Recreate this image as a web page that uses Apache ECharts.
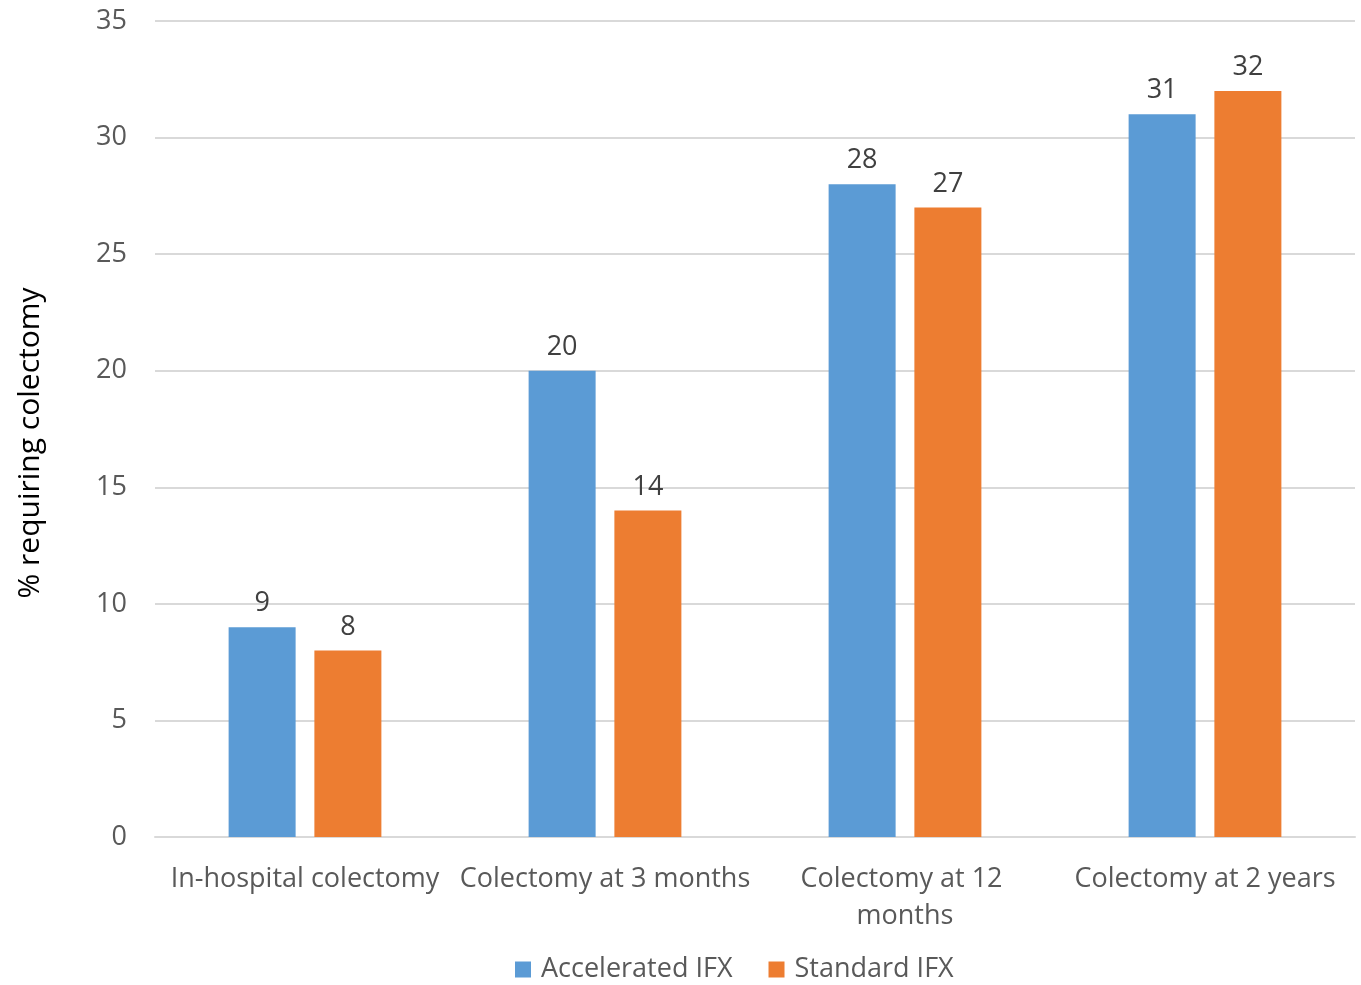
<!DOCTYPE html>
<html>
<head>
<meta charset="utf-8">
<script src="https://cdn.jsdelivr.net/npm/echarts@6/dist/echarts.min.js"></script>
<style>
  html, body { margin: 0; padding: 0; background: #fff; }
  #chart { width: 1361px; height: 985px; }
</style>
</head>
<body>
<div id="chart"></div>
<script>
// data
var categories = ['In-hospital colectomy', 'Colectomy at 3 months', 'Colectomy at 12 months', 'Colectomy at 2 years'];
var accelerated = [9, 20, 28, 31];
var standard = [8, 14, 27, 32];
var seriesNames = ['Accelerated IFX', 'Standard IFX'];

var font = '"Open Sans", "Noto Sans", sans-serif';
var myChart = echarts.init(document.getElementById('chart'));

var option = {
  animation: false,
  textStyle: { fontFamily: font },
  color: ['#5B9BD5', '#ED7D31'],
  grid: { left: 155, right: 6, top: 21, bottom: 148, containLabel: false },
  legend: {
    bottom: -3,
    left: 510,
    itemWidth: 16,
    itemHeight: 16,
    itemGap: 36,
    icon: 'rect',
    textStyle: { fontSize: 27, color: '#595959', fontFamily: font, padding: [0, 0, 0, 5] },
    data: seriesNames
  },
  xAxis: {
    type: 'category',
    data: categories,
    axisLine: { show: true, lineStyle: { color: '#d9d9d9', width: 2 } },
    axisTick: { show: false },
    axisLabel: {
      interval: 0, margin: 24, fontSize: 27, color: '#595959', lineHeight: 37,
      width: 296, overflow: 'break', fontFamily: font
    }
  },
  yAxis: {
    type: 'value',
    min: 0, max: 35, interval: 5,
    name: '% requiring colectomy',
    nameLocation: 'middle',
    nameGap: 110,
    nameTextStyle: { fontSize: 30, color: '#000', fontFamily: font, padding: [0, 28, 0, 0] },
    axisLine: { show: false },
    axisTick: { show: false },
    axisLabel: { margin: 28, fontSize: 27, color: '#595959', fontFamily: font },
    splitLine: { lineStyle: { color: '#d9d9d9', width: 2 } }
  },
  series: [
    {
      name: seriesNames[0], type: 'bar', data: accelerated,
      barWidth: 67, barGap: '28%',
      label: { show: true, position: 'top', distance: 10, fontSize: 27, color: '#404040', fontFamily: font }
    },
    {
      name: seriesNames[1], type: 'bar', data: standard,
      barWidth: 67,
      label: { show: true, position: 'top', distance: 10, fontSize: 27, color: '#404040', fontFamily: font }
    }
  ]
};
myChart.setOption(option);
</script>
</body>
</html>
